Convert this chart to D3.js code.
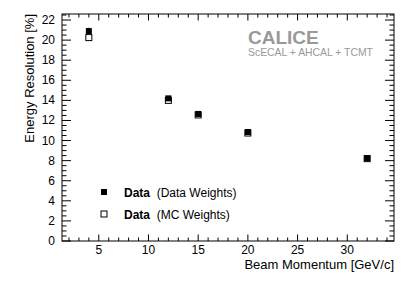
<!DOCTYPE html>
<html>
<head>
<meta charset="utf-8">
<script src="https://cdn.jsdelivr.net/npm/d3@7"></script>
<style>
  body { margin: 0; background: #fff; overflow: hidden; }
  svg { display: block; font-family: "Liberation Sans", Arial, sans-serif; }
</style>
</head>
<body>
<div id="chart"></div>
<script>
// beam momenta [GeV/c] and resolutions [%]
const momenta = [4, 12, 15, 20, 32];
const resDataW = [20.9, 14.2, 12.65, 10.85, 8.25];
const errDataW = [0.35, 0.2, 0.15, 0.12, 0.1];
const resMCW = [20.25, 14.0, 12.55, 10.75, 8.2];
const errMCW = [0.3, 0.2, 0.15, 0.12, 0.1];
const legendLabels = [
  { bold: "Data", rest: "(Data Weights)", filled: true },
  { bold: "Data", rest: "(MC Weights)", filled: false }
];

const width = 415, height = 281;
const margin = { top: 14, right: 21, bottom: 40, left: 62 };
const innerWidth = width - margin.left - margin.right;
const innerHeight = height - margin.top - margin.bottom;

const svg = d3.select("#chart").append("svg")
  .attr("width", width)
  .attr("height", height);

const g = svg.append("g")
  .attr("transform", `translate(${margin.left},${margin.top})`);

const x = d3.scaleLinear().domain([1.3, 34.7]).range([0, innerWidth]);
const y = d3.scaleLinear().domain([0, 22.6]).range([innerHeight, 0]);

// frame
g.append("rect")
  .attr("width", innerWidth)
  .attr("height", innerHeight)
  .attr("fill", "none")
  .attr("stroke", "#000")
  .attr("stroke-width", 1);

// ROOT-style ticks on all four sides
const xMajor = d3.range(5, 35, 5);
const xMinor = d3.range(2, 35, 1).filter(v => v % 5 !== 0);
const yMajor = d3.range(0, 23, 2);
const yMinor = d3.range(0.5, 22.6, 0.5).filter(v => v % 2 !== 0);

function xticks(vals, len) {
  vals.forEach(v => {
    g.append("line").attr("x1", x(v)).attr("x2", x(v))
      .attr("y1", innerHeight).attr("y2", innerHeight - len).attr("stroke", "#000");
    g.append("line").attr("x1", x(v)).attr("x2", x(v))
      .attr("y1", 0).attr("y2", len).attr("stroke", "#000");
  });
}
function yticks(vals, len) {
  vals.forEach(v => {
    g.append("line").attr("y1", y(v)).attr("y2", y(v))
      .attr("x1", 0).attr("x2", len).attr("stroke", "#000");
    g.append("line").attr("y1", y(v)).attr("y2", y(v))
      .attr("x1", innerWidth).attr("x2", innerWidth - len).attr("stroke", "#000");
  });
}
xticks(xMajor, 6.5);
xticks(xMinor, 3.5);
yticks(yMajor, 9);
yticks(yMinor, 4.5);

g.selectAll("text.xlab").data(xMajor).join("text")
  .attr("class", "xlab")
  .attr("x", d => x(d)).attr("y", innerHeight + 13)
  .attr("text-anchor", "middle").attr("font-size", 12)
  .text(d => d);

g.selectAll("text.ylab").data(yMajor).join("text")
  .attr("class", "ylab")
  .attr("x", -7).attr("y", d => y(d) + 4)
  .attr("text-anchor", "end").attr("font-size", 12)
  .text(d => d);

svg.append("text")
  .attr("x", margin.left + innerWidth).attr("y", 269)
  .attr("text-anchor", "end").attr("font-size", 13)
  .text("Beam Momentum [GeV/c]");

svg.append("text")
  .attr("transform", `translate(34,${margin.top}) rotate(-90)`)
  .attr("text-anchor", "end").attr("font-size", 13)
  .text("Energy Resolution [%]");

// CALICE label
svg.append("text")
  .attr("x", 248).attr("y", 44)
  .attr("font-size", 19).attr("font-weight", "bold").attr("fill", "#999")
  .text("CALICE");
svg.append("text")
  .attr("x", 248).attr("y", 56)
  .attr("font-size", 10.4).attr("fill", "#999")
  .text("ScECAL + AHCAL + TCMT");

// error bars and markers
function drawSeries(vals, errs, filled) {
  momenta.forEach((m, i) => {
    g.append("line")
      .attr("x1", x(m)).attr("x2", x(m))
      .attr("y1", y(vals[i] - errs[i])).attr("y2", y(vals[i] + errs[i]))
      .attr("stroke", "#555").attr("stroke-width", 1);
  });
  g.selectAll(null).data(momenta).join("rect")
    .attr("x", d => x(d) - 3)
    .attr("y", (d, i) => y(vals[i]) - 3)
    .attr("width", 6).attr("height", 6)
    .attr("fill", filled ? "#000" : "#fff")
    .attr("stroke", "#000").attr("stroke-width", filled ? 0 : 1);
}
drawSeries(resMCW, errMCW, false);
drawSeries(resDataW, errDataW, true);

// legend
const legend = svg.append("g");
legendLabels.forEach((d, i) => {
  const ly = 192 + i * 22;
  legend.append("rect")
    .attr("x", 101).attr("y", ly - 3).attr("width", 6).attr("height", 6)
    .attr("fill", d.filled ? "#000" : "#fff")
    .attr("stroke", "#000").attr("stroke-width", d.filled ? 0 : 1);
  const t = legend.append("text")
    .attr("x", 124).attr("y", ly + 4.5).attr("font-size", 12);
  t.append("tspan").attr("font-weight", "bold").text(d.bold);
  t.append("tspan").text("\u00a0 " + d.rest);
});
</script>
</body>
</html>
